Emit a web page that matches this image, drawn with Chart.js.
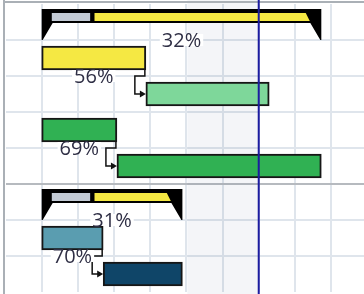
<!DOCTYPE html>
<html>
<head>
<meta charset="utf-8">
<script src="https://cdn.jsdelivr.net/npm/chart.js@4.4.1/dist/chart.umd.min.js"></script>
<style>
  html, body { margin: 0; padding: 0; background: #ffffff; }
  #wrap { width: 364px; height: 294px; position: relative; }
</style>
</head>
<body>
<div id="wrap"><canvas id="c" width="364" height="294"></canvas></div>
<script>
// ---- data ----
const rowNames = ['Summary 1', 'Task A', 'Task B', 'Task C', 'Task D', 'Summary 2', 'Task E', 'Task F'];
const barStart = [1, 1, 3.88, 1, 3.08, 1, 1, 2.70];
const barEnd   = [8.73, 3.88, 7.29, 3.08, 8.73, 4.89, 2.70, 4.89];
const isSummary = [true, false, false, false, false, true, false, false];
const barColors = ['#000000', '#f5e843', '#7ed79a', '#30b153', '#30b153', '#000000', '#5a9db0', '#0f4568'];
const progressLabels = ['32%', '56%', '', '69%', '', '31%', '70%', ''];
const links = [[1, 2], [3, 4], [6, 7]];
const summaryGrayRange = [1.28, 2.34];
const summaryYellowStart = 2.46;
const summaryInset = 0.32;
const shadeRange = [5, 7];
const todayValue = 7;
const xMax = 9.91;

const ganttPlugin = {
  id: 'gantt',
  beforeDatasetsDraw(chart) {
    const { ctx, scales: { x } } = chart;
    ctx.save();
    const sx0 = x.getPixelForValue(shadeRange[0]);
    const sx1 = x.getPixelForValue(shadeRange[1]);
    ctx.globalCompositeOperation = 'multiply';
    ctx.fillStyle = '#f4f5f8';
    ctx.fillRect(sx0 + 1, 0, sx1 - sx0 - 1, chart.height);
    ctx.globalCompositeOperation = 'source-over';
    ctx.fillStyle = '#aab0b6';
    ctx.fillRect(3, 0, 2, chart.height);
    ctx.fillRect(3, 1, chart.width, 2);
    ctx.restore();
  },
  afterDatasetsDraw(chart) {
    const { ctx, scales: { x, y } } = chart;
    ctx.save();
    rowNames.forEach((name, i) => {
      if (!isSummary[i]) return;
      const c = y.getPixelForValue(i);
      const x0 = x.getPixelForValue(barStart[i]);
      const x1 = x.getPixelForValue(barEnd[i]);
      ctx.fillStyle = barColors[i];
      ctx.beginPath();
      ctx.moveTo(x0, c - 13);
      ctx.lineTo(x1, c - 13);
      ctx.lineTo(x1, c + 18);
      ctx.lineTo(x1 - 1, c + 18);
      ctx.lineTo(x1 - 11, c + 1);
      ctx.lineTo(x0 + 11, c + 1);
      ctx.lineTo(x0 + 1, c + 18);
      ctx.lineTo(x0, c + 18);
      ctx.closePath();
      ctx.fill();
      const g0 = x.getPixelForValue(summaryGrayRange[0]);
      const g1 = x.getPixelForValue(summaryGrayRange[1]);
      ctx.fillStyle = '#c2cad4';
      ctx.fillRect(g0, c - 9, g1 - g0, 8);
      const ys = x.getPixelForValue(summaryYellowStart);
      const ye = x.getPixelForValue(barEnd[i] - summaryInset);
      ctx.fillStyle = '#f5e843';
      ctx.beginPath();
      ctx.moveTo(ys, c - 9);
      ctx.lineTo(ye - 4, c - 9);
      ctx.lineTo(ye, c - 1);
      ctx.lineTo(ys, c - 1);
      ctx.closePath();
      ctx.fill();
    });
    ctx.strokeStyle = '#111111';
    ctx.fillStyle = '#111111';
    ctx.lineWidth = 1.5;
    links.forEach(([a, b]) => {
      const ya = y.getPixelForValue(a);
      const yb = y.getPixelForValue(b);
      const xe = x.getPixelForValue(barEnd[a]);
      const xs = x.getPixelForValue(barStart[b]);
      const mid = (ya + yb) / 2;
      ctx.beginPath();
      ctx.moveTo(xe - 1, ya + 12);
      ctx.lineTo(xe - 1, mid);
      ctx.lineTo(xe - 11, mid);
      ctx.lineTo(xe - 11, yb);
      ctx.lineTo(xs - 5, yb);
      ctx.stroke();
      ctx.beginPath();
      ctx.moveTo(xs, yb);
      ctx.lineTo(xs - 6, yb - 3.5);
      ctx.lineTo(xs - 6, yb + 3.5);
      ctx.closePath();
      ctx.fill();
    });
    ctx.font = '20px "Open Sans", sans-serif';
    ctx.textAlign = 'center';
    ctx.textBaseline = 'middle';
    progressLabels.forEach((lab, i) => {
      if (!lab) return;
      const c = y.getPixelForValue(i);
      const cx = (x.getPixelForValue(barStart[i]) + x.getPixelForValue(barEnd[i])) / 2;
      const ty = c + 18;
      const w = ctx.measureText(lab).width;
      ctx.fillStyle = '#ffffff';
      ctx.fillRect(cx - w / 2 - 2, ty - 6, w + 4, 12);
      ctx.fillStyle = '#2f2f45';
      ctx.fillText(lab, cx, ty + 1);
    });
    const tx = x.getPixelForValue(todayValue);
    ctx.fillStyle = '#1c1ca0';
    ctx.fillRect(tx - 1, 0, 2, chart.height);
    ctx.restore();
  }
};

new Chart(document.getElementById('c'), {
  type: 'bar',
  data: {
    labels: rowNames,
    datasets: [{
      data: rowNames.map((n, i) => isSummary[i] ? null : [barStart[i], barEnd[i]]),
      backgroundColor: barColors,
      borderColor: '#161616',
      borderWidth: 2,
      borderSkipped: false,
      barThickness: 24
    }]
  },
  options: {
    responsive: false,
    animation: false,
    indexAxis: 'y',
    layout: { padding: { left: 5.5, top: 4, right: 0, bottom: 2 } },
    plugins: { legend: { display: false }, tooltip: { enabled: false } },
    scales: {
      x: {
        type: 'linear',
        min: 0,
        max: xMax,
        ticks: { display: false, stepSize: 1, includeBounds: false },
        border: { display: false },
        grid: {
          drawTicks: false,
          lineWidth: 2,
          color: (ctx) => (ctx.type === 'tick' && ctx.index > 0) ? '#dfe5ec' : 'rgba(0,0,0,0)'
        }
      },
      y: {
        type: 'category',
        offset: true,
        ticks: { display: false },
        border: { display: false },
        grid: {
          offset: true,
          drawTicks: false,
          lineWidth: 2,
          color: (ctx) => {
            if (ctx.type !== 'tick' || ctx.index === 0) return 'rgba(0,0,0,0)';
            return ctx.index === 5 ? '#b6babf' : '#dfe5ec';
          }
        }
      }
    }
  },
  plugins: [ganttPlugin]
});
</script>
</body>
</html>
